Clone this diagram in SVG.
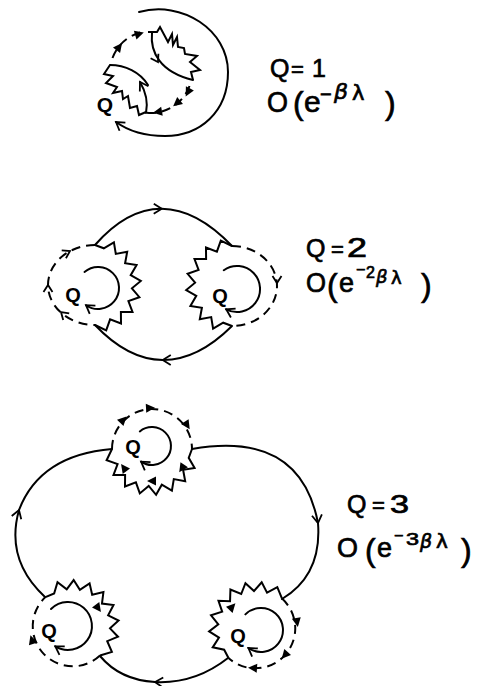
<svg xmlns="http://www.w3.org/2000/svg" width="477" height="686" viewBox="0 0 477 686">
<defs>
<style>
.s{fill:none;stroke:#000;stroke-width:2;stroke-linecap:round}
.z{fill:none;stroke:#000;stroke-width:2;stroke-linejoin:miter}
.d{fill:none;stroke:#000;stroke-width:2;stroke-dasharray:9 6}
text{font-family:"Liberation Sans",Arial,Helvetica,sans-serif;fill:#000}
.lb text{stroke:#000;stroke-width:0.7}
.g{font-family:"DejaVu Sans",sans-serif}
.q{font-weight:bold;font-size:20px;text-anchor:middle}
.it{font-style:italic}
</style>
<marker id="ah" markerUnits="userSpaceOnUse" markerWidth="20" markerHeight="20" viewBox="-10 -10 20 20" refX="0" refY="0" orient="auto">
<path d="M -8 -5 L 0 0 L -8 5" fill="none" stroke="#000" stroke-width="1.8"/>
</marker>
<path id="zz" fill="none" stroke="#000" stroke-width="2" d="M -40 1 L -45.4 12.2 L -34.4 16.1 L -38.5 27 L -26.9 26.9 L -27 38.5 L -16.1 34.4 L -12.2 45.4 L -3.3 37.9 L 4.1 46.8 L 9.8 36.7 L 19.9 42.6 L 21.8 31.1 L 33.2 33.2 L 31.1 21.8 L 42.6 19.9 L 36.7 9.8 L 40 1"/>
<path id="dh" fill="none" stroke="#000" stroke-width="2" stroke-dasharray="9 6" d="M -40 1 A 40 40 0 1 1 40 1"/>
<path id="tri" fill="#000" d="M 5 0 L -4 -4.5 L -4 4.5 Z"/>
<path id="vh" fill="none" stroke="#000" stroke-width="1.8" d="M -7 -4.5 L 0 0 L -7 4.5"/>
</defs>
<rect width="477" height="686" fill="#fff"/>

<g id="connectors">
<path class="s" d="M 139 12 C 182 0 228 30 228 72 C 228 112 200 136 165 136 C 142 136 127 130 116 122" marker-end="url(#ah)"/>
<path class="s" d="M 95 245 Q 127 208.5 161.75 208.75 Q 196.5 209 232 246" marker-mid="url(#ah)"/>
<path class="s" d="M 232 326 Q 197.5 360.25 162.75 360 Q 128 359.75 95 325" marker-mid="url(#ah)"/>
<path class="s" d="M 45 597 Q 5 560 19 510 Q 40 455 112 449" marker-mid="url(#ah)"/>
<path class="s" d="M 192 449 Q 300 430 318 523 Q 322 575 282 599" marker-mid="url(#ah)"/>
<path class="s" d="M 228 658 Q 195 684 155 682 Q 120 680 100 656" marker-mid="url(#ah)"/>
</g>

<g id="n1">
<path class="z" d="M 148 32 L 157 32 L 160 27 L 168 42 L 172 34 L 173 45 L 177 37 L 178 47 L 184 48 L 185 54 L 197 56 L 190 62 L 200 70 L 191 72 L 193 80"/>
<path class="s" d="M 152 33 C 150 52 160 72 193 80"/>
<use href="#vh" transform="translate(158,62) rotate(60)"/>
<path class="s" d="M 110 65 C 125 65 140 72 148 85"/>
<path class="z" d="M 110 65 L 104 74 L 113 76 L 106 83 L 117 87 L 113 93 L 122 91 L 123 99 L 128 96 L 130 108 L 137 106 L 139 115 L 146 112"/>
<path class="s" d="M 146 113 C 148 103 146 92 140 82" marker-end="url(#ah)"/>
<path class="d" d="M 112.5 58 A 41 41 0 0 1 143.9 31.6"/>
<path class="d" d="M 189.5 86 A 41 41 0 0 1 143.9 112.4"/>
<use href="#tri" transform="translate(119,47) rotate(-52)"/>
<use href="#tri" transform="translate(139,34) rotate(-17)"/>
<use href="#tri" transform="translate(188,92) rotate(118)"/>
<use href="#tri" transform="translate(177,103) rotate(140)"/>
<use href="#tri" transform="translate(158,112) rotate(170)"/>
<text class="q" x="105" y="112" style="font-size:21px">Q</text>
</g>

<g id="label1" class="lb">
<text x="270" y="77" font-size="25">Q</text>
<text x="291" y="77" font-size="22">=</text>
<text x="312" y="77" font-size="25">1</text>
<text x="267" y="112" font-size="30" textLength="21" lengthAdjust="spacingAndGlyphs">O</text>
<text x="293" y="114" font-size="32">(</text>
<text x="304" y="112" font-size="30">e</text>
<text x="320" y="101" font-size="20">−</text>
<text x="334" y="99" font-size="22" class="g it">β</text>
<text x="352" y="100" font-size="21" class="g">λ</text>
<text x="385" y="114" font-size="32">)</text>
</g>

<g id="n2a">
<use href="#zz" transform="translate(94,285) rotate(-90)"/>
<path class="d" d="M 95 245 A 47 40 0 0 0 95 325"/>
<use href="#vh" transform="translate(70,251) rotate(-28)"/>
<use href="#vh" transform="translate(48,285) rotate(-90)"/>
<use href="#vh" transform="translate(61,312) rotate(222)"/>
<path class="s" d="M 84.5 271.9 A 21 21 0 1 1 86 305.2" marker-end="url(#ah)"/>
<text class="q" x="73" y="302">Q</text>
</g>

<g id="n2b">
<use href="#zz" transform="translate(233,286) rotate(90)"/>
<path class="d" d="M 232 246 A 45 40 0 0 1 232 326"/>
<use href="#vh" transform="translate(277,283) rotate(90)"/>
<path class="s" d="M 223.8 270.2 A 23 23 0 1 1 226.2 309.3" marker-end="url(#ah)"/>
<text class="q" x="220" y="303">Q</text>
</g>

<g id="label2" class="lb">
<text x="306" y="257" font-size="25">Q</text>
<text x="331" y="257" font-size="22">=</text>
<text x="347" y="257" font-size="27" textLength="20" lengthAdjust="spacingAndGlyphs">2</text>
<text x="306" y="292" font-size="27" textLength="20" lengthAdjust="spacingAndGlyphs">O</text>
<text x="327" y="296" font-size="32">(</text>
<text x="339" y="292" font-size="27">e</text>
<text x="356" y="275" font-size="16">−</text>
<text x="366" y="278" font-size="16">2</text>
<text x="376" y="283" font-size="18" class="g it">β</text>
<text x="391" y="284" font-size="18" class="g">λ</text>
<text x="421" y="296" font-size="32">)</text>
</g>

<g id="n3a">
<use href="#zz" transform="translate(152,448)"/>
<use href="#dh" transform="translate(152,448)"/>
<use href="#tri" transform="translate(123,420) rotate(-46)"/>
<use href="#tri" transform="translate(150,408) rotate(-3)"/>
<use href="#tri" transform="translate(187,425) rotate(57)"/>
<use href="#tri" transform="translate(124,468) rotate(234)"/>
<use href="#tri" transform="translate(152,481) rotate(180)"/>
<use href="#tri" transform="translate(182,468) rotate(124)"/>
<path class="s" d="M 139.8 431.4 A 19 19 0 1 1 141.1 461.6" marker-end="url(#ah)"/>
<text class="q" x="133" y="454">Q</text>
</g>

<g id="n3b">
<use href="#zz" transform="translate(72,627) rotate(-133)"/>
<use href="#dh" transform="translate(72,627) rotate(-133)"/>
<use href="#tri" transform="translate(98,608) rotate(54)"/>
<use href="#tri" transform="translate(32,640) rotate(252)"/>
<path class="s" d="M 51 609 A 24 24 0 1 1 55.3 646.4" marker-end="url(#ah)"/>
<text class="q" x="49" y="638">Q</text>
</g>

<g id="n3c">
<use href="#zz" transform="translate(256,629) rotate(132)"/>
<use href="#dh" transform="translate(256,629) rotate(132)"/>
<use href="#tri" transform="translate(232,607) rotate(-47)"/>
<use href="#tri" transform="translate(297,622) rotate(80)"/>
<use href="#tri" transform="translate(285,655) rotate(132)"/>
<use href="#tri" transform="translate(253,668) rotate(184)"/>
<path class="s" d="M 245.4 614.4 A 22 22 0 1 1 248.4 648" marker-end="url(#ah)"/>
<text class="q" x="238" y="643">Q</text>
</g>

<g id="label3" class="lb">
<text x="347" y="513" font-size="25">Q</text>
<text x="372" y="513" font-size="22">=</text>
<text x="390" y="513" font-size="25" textLength="19" lengthAdjust="spacingAndGlyphs">3</text>
<text x="337" y="557" font-size="28" textLength="21" lengthAdjust="spacingAndGlyphs">O</text>
<text x="365" y="561" font-size="32">(</text>
<text x="377" y="557" font-size="27">e</text>
<text x="394" y="541" font-size="16">−</text>
<text x="406" y="545" font-size="17" textLength="13" lengthAdjust="spacingAndGlyphs">3</text>
<text x="420" y="548" font-size="19" class="g it">β</text>
<text x="436" y="548" font-size="20" class="g">λ</text>
<text x="461" y="561" font-size="32">)</text>
</g>
</svg>
